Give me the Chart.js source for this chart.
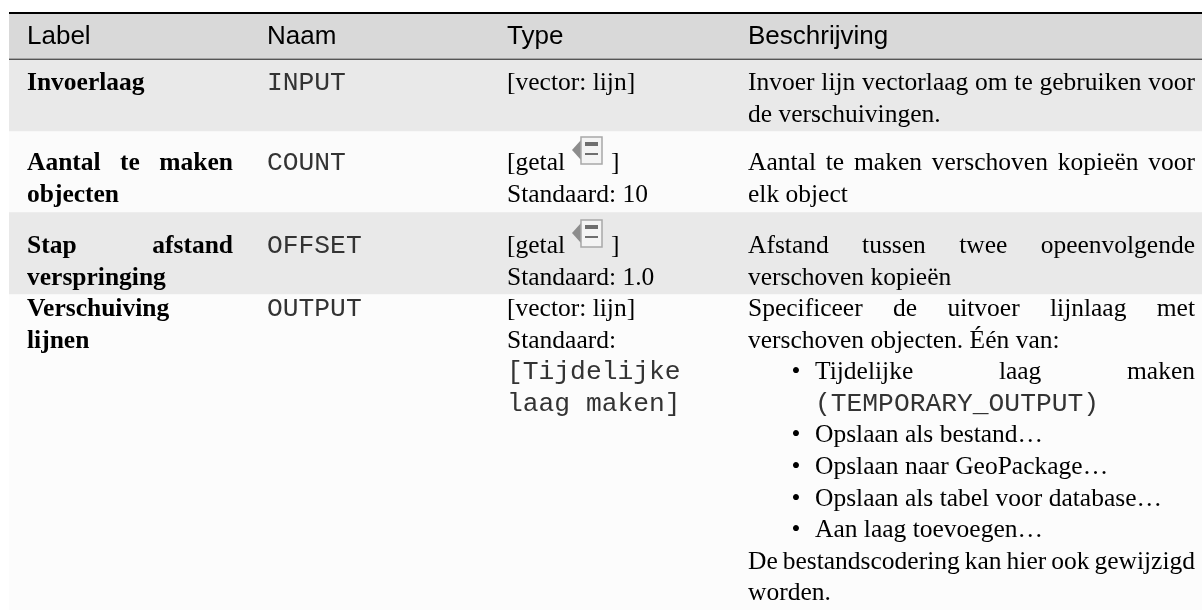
<!DOCTYPE html>
<html>
<head>
<meta charset="utf-8">
<style>
  html, body { margin: 0; padding: 0; background: #fff; overflow: hidden; }
  #wrap { position: relative; width: 1202px; height: 610px; }
  #tableChart { filter: blur(0.35px); }
</style>
<script src="https://cdn.jsdelivr.net/npm/chart.js@4/dist/chart.umd.min.js"></script>
</head>
<body>
<div id="wrap"><canvas id="tableChart" width="1202" height="610"></canvas></div>
<script>
// table content
const headers = ['Label', 'Naam', 'Type', 'Beschrijving'];
const labelLines = [['Invoerlaag'], ['Aantal te maken', 'objecten'], ['Stap afstand', 'verspringing'], ['Verschuiving', 'lijnen']];
const nameLines = ['INPUT', 'COUNT', 'OFFSET', 'OUTPUT'];
const typeLines = [
    ['[vector: lijn]'],
    ['[getal', 'Standaard: 10'],
    ['[getal', 'Standaard: 1.0'],
    ['[vector: lijn]', 'Standaard:', '[Tijdelijke', 'laag maken]']
];
const descLines = [
    ['Invoer lijn vectorlaag om te gebruiken voor', 'de verschuivingen.'],
    ['Aantal te maken verschoven kopieën voor', 'elk object'],
    ['Afstand tussen twee opeenvolgende', 'verschoven kopieën'],
    ['Specificeer de uitvoer lijnlaag met', 'verschoven objecten. Één van:', '• Tijdelijke laag maken', '(TEMPORARY_OUTPUT)',
     '• Opslaan als bestand…', '• Opslaan naar GeoPackage…', '• Opslaan als tabel voor database…', '• Aan laag toevoegen…',
     'De bestandscodering kan hier ook gewijzigd', 'worden.']
];
// row edges (y in picture units)
const rowTops = [14, 60, 131, 212, 294];
const rowBottoms = [59, 131, 212, 294, 610];
const rowColors = ['#d9d9d9', '#e9e9e9', '#fbfbfb', '#e9e9e9', '#fcfcfc'];
const rowBaselines = [44, 90, 170, 253, 316];

const COLS = [27, 267, 507, 748];
const LINE_H = 31.6;
const RIGHT = [233, 0, 0, 1195];
const SERIF = '"Liberation Serif"';
const FONT_SIZE = 25.5;
const MONO_SIZE = 26.3;

// Draw one line, optionally justified with word spacing
function drawLine(ctx, text, x, y, font, justifyTo) {
    ctx.font = font;
    ctx.wordSpacing = '0px';
    if (justifyTo) {
        const gaps = text.split(' ').length - 1;
        const extra = (justifyTo - x - ctx.measureText(text).width) / gaps;
        ctx.wordSpacing = extra + 'px';
    }
    ctx.fillText(text, x, y);
    ctx.wordSpacing = '0px';
}

// Mono text is thinner in the reference
function drawMono(ctx, text, x, y) {
    ctx.fillStyle = '#333';
    drawLine(ctx, text, x, y, `${MONO_SIZE}px "Liberation Mono"`);
    ctx.fillStyle = '#000';
}

// The little table icon behind [getal
function drawIcon(ctx, x, y) {
    ctx.fillStyle = '#8c8c8c';
    ctx.beginPath();
    ctx.moveTo(x, y + 13);
    ctx.lineTo(x + 9, y + 3);
    ctx.lineTo(x + 9, y + 23);
    ctx.closePath();
    ctx.fill();
    ctx.fillStyle = '#f4f4f4';
    ctx.fillRect(x + 9, y, 21, 27);
    ctx.strokeStyle = '#a8a8a8';
    ctx.lineWidth = 1.5;
    ctx.strokeRect(x + 9, y, 21, 27);
    ctx.fillStyle = '#6e6e6e';
    ctx.fillRect(x + 13, y + 5, 13, 4);
    ctx.fillRect(x + 13, y + 16, 13, 2);
}

const tableTextPlugin = {
    id: 'tableText',
    afterDraw(chart) {
        const ctx = chart.ctx;
        const yScale = chart.scales.y;
        const left = chart.chartArea.left;
        const right = chart.chartArea.right;
        const yOf = v => yScale.getPixelForValue(v);
        ctx.save();

        // rules
        ctx.fillStyle = '#000';
        ctx.fillRect(left, yOf(12), right - left, 2);
        ctx.fillStyle = '#555';
        ctx.fillRect(left, yOf(58.6), right - left, 1.4);

        ctx.textBaseline = 'alphabetic';
        ctx.textAlign = 'left';
        ctx.fillStyle = '#000';

        headers.forEach((h, i) => drawLine(ctx, h, COLS[i], yOf(rowBaselines[0]), '26px "Liberation Sans"'));

        const bold = `bold ${FONT_SIZE}px ${SERIF}`;
        const plain = `${FONT_SIZE}px ${SERIF}`;

        labelLines.forEach((lines, r) => lines.forEach((t, i) => {
            const justify = i === 0 && t.includes(' ') ? RIGHT[0] : null;
            drawLine(ctx, t, COLS[0], yOf(rowBaselines[r + 1] + i * LINE_H), bold, justify);
        }));
        nameLines.forEach((t, r) => drawMono(ctx, t, COLS[1], yOf(rowBaselines[r + 1])));
        typeLines.forEach((lines, r) => lines.forEach((t, i) => {
            const y = yOf(rowBaselines[r + 1] + i * LINE_H);
            if (t.startsWith('[Tijd') || t.startsWith('laag')) drawMono(ctx, t, COLS[2], y);
            else drawLine(ctx, t, COLS[2], y, plain);
        }));
        descLines.forEach((lines, r) => lines.forEach((t, i) => {
            const y = yOf(rowBaselines[r + 1] + i * LINE_H);
            const justified = i === 0 || t.startsWith('De bestand');
            if (t.startsWith('• ')) {
                drawLine(ctx, '•', 791.5, y, plain);
                const rest = t.slice(2);
                drawLine(ctx, rest, 815, y, plain, rest.startsWith('Tijdelijke') ? RIGHT[3] : null);
            } else if (t.startsWith('(TEMP')) {
                drawMono(ctx, t, 815, y);
            } else {
                drawLine(ctx, t, COLS[3], y, plain, justified ? RIGHT[3] : null);
            }
        }));

        // brackets and icons of the [getal cells
        [1, 2].forEach(r => {
            const y = yOf(rowBaselines[r + 1]);
            drawIcon(ctx, 572, y - 33);
            ctx.fillStyle = '#000';
            drawLine(ctx, ']', 611, y, plain);
        });
        ctx.restore();
    }
};

new Chart(document.getElementById('tableChart'), {
    type: 'bar',
    data: {
        labels: ['tabel'],
        datasets: rowTops.map((top, i) => ({
            data: [[top, rowBottoms[i]]],
            backgroundColor: rowColors[i],
            borderWidth: 0,
            categoryPercentage: 1,
            barPercentage: 1,
            grouped: false
        }))
    },
    options: {
        responsive: false,
        animation: false,
        layout: { padding: { left: 9, right: 0, top: 0, bottom: 0 } },
        plugins: { legend: { display: false }, title: { display: false }, tooltip: { enabled: false } },
        scales: {
            x: { display: false },
            y: { display: false, reverse: true, min: 0, max: 610 }
        }
    },
    plugins: [tableTextPlugin]
});
</script>
</body>
</html>
